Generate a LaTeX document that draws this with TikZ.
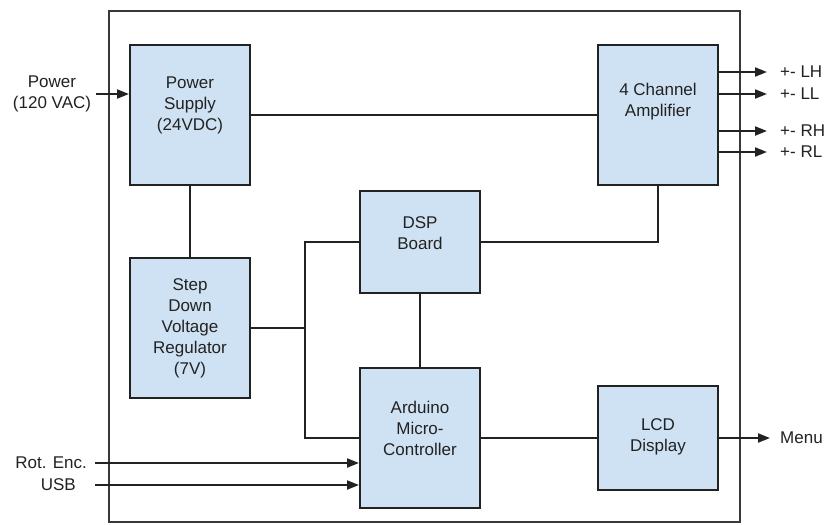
\documentclass[tikz,border=0pt]{standalone}
\usepackage{fontspec}
\setmainfont{Liberation Sans}
\usetikzlibrary{arrows.meta}
\definecolor{boxfill}{HTML}{CFE2F3}
\definecolor{ink}{HTML}{222222}
\tikzset{
  blk/.style={draw=ink, fill=boxfill, line width=2pt, inner sep=0pt},
  txt/.style={font=\fontsize{17}{21}\selectfont, text=ink, align=center, inner sep=0pt},
  wire/.style={draw=ink, line width=2pt},
  arr/.style={wire, -{Triangle[length=12pt,width=9pt]}},
}
\begin{document}
\begin{tikzpicture}[x=1pt,y=-1pt]
\useasboundingbox (0,0) rectangle (825,525);
\fill[white] (0,0) rectangle (825,525);
% outer frame
\draw[wire, draw=ink!90] (109,11) rectangle (740,522);
% blocks
\node[blk, minimum width=120pt, minimum height=140pt, label={[txt, yshift=10pt]center:Power\\Supply\\(24VDC)}] (ps) at (190,115) {};
\node[blk, minimum width=120pt, minimum height=140pt, label={[txt]center:Step\\Down\\Voltage\\Regulator\\(7V)}] (sd) at (190,328) {};
\node[blk, minimum width=120pt, minimum height=102pt, label={[txt, yshift=9pt]center:DSP\\Board}] (dsp) at (420,242) {};
\node[blk, minimum width=120pt, minimum height=140pt, label={[txt, yshift=10pt]center:Arduino\\Micro-\\Controller}] (ard) at (420,438) {};
\node[blk, minimum width=120pt, minimum height=140pt, label={[txt, yshift=13pt]center:4 Channel\\Amplifier}] (amp) at (658,115) {};
\node[blk, minimum width=120pt, minimum height=104pt, label={[txt, yshift=1pt]center:LCD\\Display}] (lcd) at (658,438) {};
% internal wires
\draw[wire] (ps.east) -- (amp.west);
\draw[wire] (ps.south) -- (sd.north);
\draw[wire] (dsp.east) -| (amp.south);
\draw[wire] (dsp.south) -- (ard.north);
\draw[wire] (ard.east) -- (lcd.west);
\coordinate (jt) at (305,242);
\coordinate (jb) at (305,438);
\draw[wire] (dsp.west) -- (jt) -- (jb) -- (ard.west);
\draw[wire] (sd.east) -- (sd.east -| jt);
% external labels
\node[txt] (pw) at (52,94) {Power\\(120 VAC)};
\node[txt, anchor=east] (rot) at (87,463) {Rot. Enc.};
\node[txt, anchor=east] (usb) at (76,485) {USB};
\node[txt, anchor=west] (menu) at (780,438) {Menu};
\node[txt, anchor=west] (lh) at (780,72) {+- LH};
\node[txt, anchor=west] (ll) at (780,94) {+- LL};
\node[txt, anchor=west] (rh) at (780,131) {+- RH};
\node[txt, anchor=west] (rl) at (780,152) {+- RL};
% arrows
\draw[arr, shorten <=5pt] (pw.east |- 0,94) -- (ps.west |- 0,94);
\draw[arr, shorten <=8pt] (rot.east) -- (ard.west |- rot.east);
\draw[arr, shorten <=19pt] (usb.east) -- (ard.west |- usb.east);
\draw[arr, shorten >=10pt] (lcd.east) -- (menu.west);
\draw[arr, shorten >=13pt] (amp.east |- lh.west) -- (lh.west);
\draw[arr, shorten >=13pt] (amp.east |- ll.west) -- (ll.west);
\draw[arr, shorten >=13pt] (amp.east |- rh.west) -- (rh.west);
\draw[arr, shorten >=13pt] (amp.east |- rl.west) -- (rl.west);
\end{tikzpicture}
\end{document}
